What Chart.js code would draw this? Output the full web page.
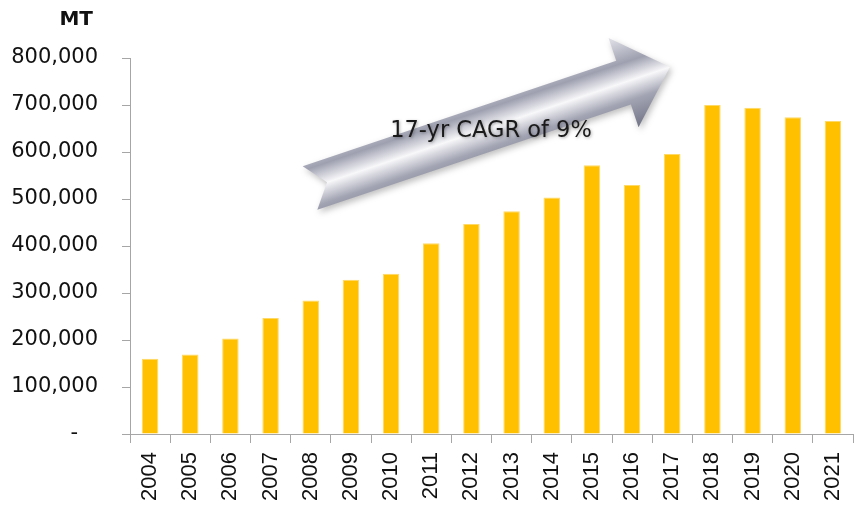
<!DOCTYPE html>
<html>
<head>
<meta charset="utf-8">
<style>
  html, body { margin: 0; padding: 0; background: #fff; }
  #chart { display: block; }
</style>
<script src="https://cdn.jsdelivr.net/npm/chart.js@4/dist/chart.umd.min.js"></script>
</head>
<body>
<canvas id="chart" width="854" height="510"></canvas>
<script>
// Data
const years = ['2004', '2005', '2006', '2007', '2008', '2009', '2010', '2011', '2012',
  '2013', '2014', '2015', '2016', '2017', '2018', '2019', '2020', '2021'];
const volumes = [160000, 169000, 203000, 247000, 284000, 328000, 341000, 406000, 447000,
  474000, 503000, 572000, 530000, 596000, 700000, 694000, 674000, 666000];
const yTicks = [0, 100000, 200000, 300000, 400000, 500000, 600000, 700000, 800000];
const unitLabel = 'MT';
const arrowText = '17-yr CAGR of 9%';

// Grey arrow + labels drawn on top
const decor = {
  id: 'decor',
  afterDraw(chart) {
    const ctx = chart.ctx;
    ctx.save();
    // unit label
    ctx.font = 'bold 20px "DejaVu Sans"';
    ctx.fillStyle = '#111';
    ctx.textAlign = 'right';
    ctx.textBaseline = 'middle';
    ctx.fillText(unitLabel, 93, 20);

    // arrow
    const x0 = 310, y0 = 188, x1 = 670, y1 = 67;
    const len = Math.hypot(x1 - x0, y1 - y0);
    const ang = Math.atan2(y1 - y0, x1 - x0);
    const hw = 23, headLen = 49, headHw = 47, notch = 18;
    ctx.translate(x0, y0);
    ctx.rotate(ang);
    ctx.shadowColor = 'rgba(0,0,0,0.25)';
    ctx.shadowBlur = 6;
    ctx.shadowOffsetX = 2;
    ctx.shadowOffsetY = 3;
    const g = ctx.createLinearGradient(0, -headHw, 0, headHw);
    g.addColorStop(0, '#e2e3e9');
    g.addColorStop(0.3, '#9ea0b0');
    g.addColorStop(0.5, '#f8f8fa');
    g.addColorStop(0.7, '#a2a4b3');
    g.addColorStop(1, '#727587');
    ctx.fillStyle = g;
    ctx.beginPath();
    ctx.moveTo(0, -hw);
    ctx.lineTo(len - headLen, -hw);
    ctx.lineTo(len - headLen, -headHw);
    ctx.lineTo(len, 0);
    ctx.lineTo(len - headLen, headHw);
    ctx.lineTo(len - headLen, hw);
    ctx.lineTo(0, hw);
    ctx.lineTo(notch, 0);
    ctx.closePath();
    ctx.fill();
    ctx.setTransform(1, 0, 0, 1, 0, 0);

    // arrow caption
    ctx.shadowColor = 'rgba(0,0,0,0.3)';
    ctx.shadowBlur = 3;
    ctx.shadowOffsetX = 1;
    ctx.shadowOffsetY = 1;
    ctx.font = '22.5px "DejaVu Sans"';
    ctx.fillStyle = '#1a1a1a';
    ctx.textAlign = 'center';
    ctx.textBaseline = 'middle';
    ctx.fillText(arrowText, 491, 131);
    ctx.restore();
  }
};

const ctx = document.getElementById('chart').getContext('2d');
new Chart(ctx, {
  type: 'bar',
  data: {
    labels: years,
    datasets: [{
      data: volumes,
      backgroundColor: '#FFC000',
      borderColor: '#FFD966',
      borderWidth: 1,
      borderSkipped: 'bottom',
      categoryPercentage: 1,
      barPercentage: 0.41
    }]
  },
  options: {
    responsive: false,
    devicePixelRatio: 1,
    animation: false,
    layout: { padding: { top: 58, right: 1, bottom: 0, left: 0 } },
    plugins: { legend: { display: false }, tooltip: { enabled: false } },
    scales: {
      x: {
        grid: { offset: true, drawOnChartArea: false, tickLength: 9, color: '#a6a6a6' },
        border: { color: '#a6a6a6', width: 1 },
        ticks: {
          minRotation: 90, maxRotation: 90, padding: 9, color: '#111',
          font: { family: '"Liberation Sans", Arial', size: 22 }
        },
        afterFit(scale) {
          scale.height = 76;
          scale.paddingLeft = 0;
          scale.paddingRight = 0;
        }
      },
      y: {
        min: 0, max: 800000,
        afterBuildTicks(scale) { scale.ticks = yTicks.map(v => ({ value: v })); },
        grid: { drawOnChartArea: false, tickLength: 8, color: '#a6a6a6' },
        border: { color: '#a6a6a6', width: 1 },
        ticks: {
          padding: 24, color: '#111',
          font: { family: '"DejaVu Sans"', size: 21 },
          callback: v => v === 0 ? '-   ' : v.toLocaleString('en-US')
        },
        afterFit(scale) { scale.width = 130; }
      }
    }
  },
  plugins: [decor]
});
</script>
</body>
</html>
